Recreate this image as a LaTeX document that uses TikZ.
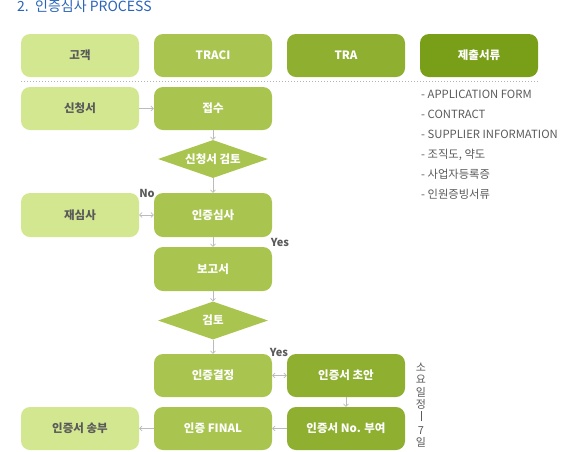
\documentclass[tikz,border=0pt]{standalone}
\usepackage{fontspec}
\setmainfont{Noto Sans CJK KR}
\usetikzlibrary{shapes.geometric, arrows.meta}

\definecolor{lightgreen}{HTML}{D3E790}
\definecolor{midgreen}{HTML}{A9C54F}
\definecolor{darkgreen}{HTML}{8EAF30}
\definecolor{deepgreen}{HTML}{799F18}
\definecolor{titleblue}{HTML}{2A64B8}
\definecolor{linegray}{HTML}{BBBBBB}
\definecolor{textgray}{HTML}{5A5A5A}

\begin{document}
\begin{tikzpicture}[
    x=1pt, y=-1pt,
    >={Straight Barb[length=2.5pt, width=5pt]},
    box/.style={rounded corners=9pt, minimum width=118pt, minimum height=43pt, inner sep=0pt, font=\fontsize{11.5}{13}\selectfont\bfseries},
    custbox/.style={box, fill=lightgreen, text=textgray},
    tracibox/.style={box, fill=midgreen, text=white},
    trabox/.style={box, fill=darkgreen, text=white},
    docbox/.style={box, fill=deepgreen, text=white},
    decision/.style={diamond, aspect=2.9, minimum width=110pt, minimum height=38pt, inner sep=0pt, fill=midgreen, text=white, font=\fontsize{11.5}{13}\selectfont\bfseries},
    conn/.style={line width=0.6pt, color=linegray},
    answer/.style={font=\fontsize{11}{13}\selectfont\bfseries, text=textgray},
    doclist/.style={anchor=base west, font=\fontsize{11.3}{13}\selectfont, text=textgray, inner sep=0pt}
]
    \useasboundingbox (0,0) rectangle (570,451);

    % Title
    \node[anchor=base west, inner sep=0pt, text=titleblue, font=\fontsize{14}{16}\selectfont] (title) at (17,11) {2.~~인증심사 PROCESS};

    % Column headers
    \node[custbox] (customer) at (80,55.5) {고객};
    \node[tracibox] (traci) at (213,55.5) {TRACI};
    \node[trabox] (tra) at (346,55.5) {TRA};
    \node[docbox] (docs) at (479,55.5) {제출서류};

    \draw[line width=0.8pt, color=black!30, dash pattern=on 0.8pt off 2.2pt] (21,81.5) -- (538,81.5);

    % Process steps
    \node[custbox] (apply) at (80,108.5) {신청서};
    \node[tracibox] (receipt) at (213,108.5) {접수};
    \node[decision] (appcheck) at (213,159) {신청서 검토};
    \node[custbox, minimum height=44pt] (reaudit) at (80,215) {재심사};
    \node[tracibox, minimum height=44pt] (audit) at (213,215) {인증심사};
    \node[tracibox, minimum height=44pt] (report) at (213,269) {보고서};
    \node[decision] (review) at (213,320.5) {검토};
    \node[tracibox] (decide) at (213,375.5) {인증결정};
    \node[trabox] (draft) at (346,375.5) {인증서 초안};
    \node[trabox] (certno) at (346,428.5) {인증서 No. 부여};
    \node[tracibox] (final) at (213,428.5) {인증 FINAL};
    \node[custbox] (send) at (80,428.5) {인증서 송부};

    % Answers
    \node[answer] (no) at (147,193) {No};
    \node[answer] (yes1) at (280,242) {Yes};
    \node[answer] (yes2) at (279,352) {Yes};

    % Connectors
    \draw[conn, ->] (apply) -- (receipt);
    \draw[conn, ->] (receipt) -- (appcheck);
    \draw[conn, ->] (appcheck) -- (audit);
    \draw[conn, <->] (audit) -- (reaudit);
    \draw[conn, ->] (audit) -- (report);
    \draw[conn, ->] (report) -- (review);
    \draw[conn, ->] (review) -- (decide);
    \draw[conn, <->] (decide) -- (draft);
    \draw[conn, ->] (draft) -- (certno);
    \draw[conn, ->] (certno) -- (final);
    \draw[conn, ->] (final) -- (send);

    % Documents to submit
    \foreach \i/\txt in {0/APPLICATION FORM, 1/CONTRACT, 2/SUPPLIER INFORMATION, 3/{조직도, 약도}, 4/사업자등록증, 5/인원증빙서류}
        \node[doclist] (doc\i) at (421,98+20*\i) {- \txt};

    % Duration
    \node[align=center, inner sep=0pt, text=textgray, font=\fontsize{11}{12.6}\selectfont] (period) at (421,405) {소\\요\\일\\정\\\rule{0.6pt}{10pt}\\7\\일};

\end{tikzpicture}
\end{document}
